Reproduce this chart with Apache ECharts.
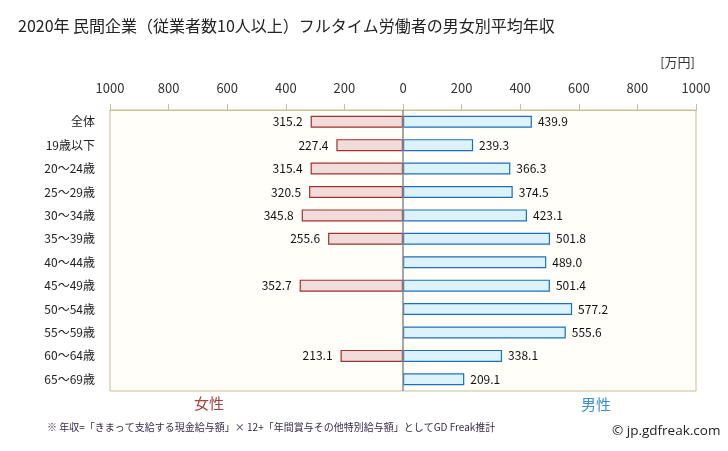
<!DOCTYPE html>
<html><head><meta charset="utf-8">
<script src="https://cdn.jsdelivr.net/npm/echarts@6/dist/echarts.min.js"></script>
<style>html,body{margin:0;padding:0;background:#fff}#c{width:728px;height:451px}</style>
</head><body><div id="c"></div>
<script>
const categories = ['全体','19歳以下','20～24歳','25～29歳','30～34歳','35～39歳','40～44歳','45～49歳','50～54歳','55～59歳','60～64歳','65～69歳'];
const female = [315.2, 227.4, 315.4, 320.5, 345.8, 255.6, null, 352.7, null, null, 213.1, null];
const male = [439.9, 239.3, 366.3, 374.5, 423.1, 501.8, 489.0, 501.4, 577.2, 555.6, 338.1, 209.1];
const tickMin = -1000, tickMax = 1000, tickStep = 200;

const FONT = '"Noto Sans CJK JP", "Noto Sans", sans-serif';
const chart = echarts.init(document.getElementById('c'), null, {renderer: 'canvas'});
chart.setOption({
  animation: false,
  backgroundColor: '#ffffff',
  textStyle: {fontFamily: FONT},
  title: {
    text: '2020年 民間企業（従業者数10人以上）フルタイム労働者の男女別平均年収',
    left: 13, top: 13,
    textStyle: {fontSize: 16, fontWeight: 'normal', color: '#222', fontFamily: FONT}
  },
  graphic: [
    {type: 'text', right: 33, top: 56, style: {text: '[万円]', fill: '#333', font: '13px ' + FONT}},
    {type: 'text', left: 194, top: 396, style: {text: '女性', fill: '#a8403e', font: '15px ' + FONT}},
    {type: 'text', left: 581, top: 397, style: {text: '男性', fill: '#3a8fd2', font: '15px ' + FONT}},
    {type: 'text', left: 47, top: 422, style: {text: '※ 年収=「きまって支給する現金給与額」× 12+「年間賞与その他特別給与額」としてGD Freak推計', fill: '#3a2a48', font: '10px ' + FONT}},
    {type: 'text', left: 612, top: 424, style: {text: '© jp.gdfreak.com', fill: '#222', font: '13.5px "Open Sans", sans-serif'}}
  ],
  grid: {left: 110, right: 32, top: 110, bottom: 60, show: true, backgroundColor: '#fffef9', borderColor: '#c8bf94', borderWidth: 1},
  xAxis: {
    type: 'value', position: 'top', min: tickMin, max: tickMax, interval: tickStep,
    axisLine: {show: true, lineStyle: {color: '#c8bf94'}},
    axisTick: {show: true, length: 6, lineStyle: {color: '#c8bf94'}},
    splitLine: {show: false},
    axisLabel: {color: '#333', fontSize: 13, margin: 15, fontFamily: FONT, formatter: v => Math.abs(v)}
  },
  yAxis: {
    type: 'category', data: categories, inverse: true,
    axisLine: {show: false}, axisTick: {show: false},
    axisLabel: {color: '#222', fontSize: 12, margin: 15, fontFamily: FONT}
  },
  series: [
    {
      name: '女性', type: 'bar', barWidth: 12, barGap: '-100%',
      data: female.map(v => v == null ? null : -v),
      itemStyle: {color: '#f2dcdb', borderColor: '#a0322d', borderWidth: 1.2},
      label: {show: true, position: 'left', distance: 8, color: '#111', fontSize: 12, fontFamily: FONT,
        formatter: p => Math.abs(p.value).toFixed(1)},
      markLine: {silent: true, symbol: 'none', label: {show: false},
        lineStyle: {color: '#888', type: 'solid', width: 1.5}, data: [{xAxis: 0}]}
    },
    {
      name: '男性', type: 'bar', barWidth: 12,
      data: male,
      itemStyle: {color: '#dcf3fc', borderColor: '#1a6fc0', borderWidth: 1.2},
      label: {show: true, position: 'right', distance: 6, color: '#111', fontSize: 12, fontFamily: FONT,
        formatter: p => Number(p.value).toFixed(1)}
    }
  ]
});
</script></body></html>
